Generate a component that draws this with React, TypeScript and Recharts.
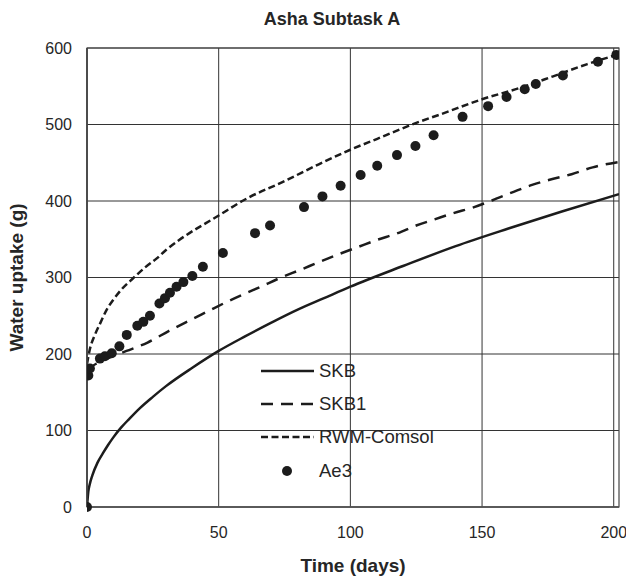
import {
  ComposedChart,
  Line,
  Scatter,
  XAxis,
  YAxis,
  CartesianGrid,
  ReferenceArea,
  Legend,
} from "recharts";

// SKB (solid)
const skbDays = [0, 0.5, 1, 2, 4, 6, 8, 10, 13, 16, 20, 25, 30, 40, 50, 60, 70, 80, 90, 100, 120, 140, 160, 180, 202];
const skbUptake = [0, 20, 29, 41, 58, 70, 81, 91, 104, 115, 129, 144, 158, 182, 204, 223, 241, 258, 273, 288, 315, 341, 364, 386, 409];

// SKB1 (long dash)
const skb1Days = [0, 2, 5, 9, 15, 23, 31, 39, 46, 53, 60, 66, 73, 81, 88, 96, 103, 110, 118, 125, 132, 139, 147, 154, 162, 169, 176, 184, 192, 202];
const skb1Uptake = [178, 184, 190, 196, 204, 215, 230, 244, 256, 268, 279, 288, 299, 310, 320, 331, 340, 349, 358, 368, 376, 384, 392, 401, 412, 421, 428, 435, 444, 451];

// RWM-Comsol (short dash)
const rwmDays = [0, 1, 3, 5, 7.5, 10, 13, 17.5, 22, 26.5, 30, 35, 50, 60, 75, 88, 100, 110, 126.5, 134, 150, 164.5, 177, 190, 202];
const rwmUptake = [187, 205, 225, 240, 258, 271, 284, 299, 313, 325, 336, 349, 381, 402, 426, 448, 467, 481, 504, 513, 533, 548, 563, 579, 592];

// Ae3 (measured points)
const ae3Days = [0, 0.5, 1.1, 4.9, 6.8, 9.4, 12.3, 15.1, 19.1, 21.4, 23.9, 27.5, 29.6, 31.5, 34, 36.6, 40, 44, 51.6, 63.8, 69.5, 82.4, 89.4, 96.3, 103.9, 110.2, 117.7, 124.7, 131.6, 142.6, 152.3, 159.3, 166.2, 170.4, 180.7, 194, 201];
const ae3Uptake = [0, 172, 181, 194, 197, 201, 210, 225, 237, 242, 250, 266, 273, 280, 288, 294, 302, 314, 332, 358, 368, 392, 406, 420, 434, 446, 460, 472, 486, 510, 524, 536, 546, 553, 564, 582, 591];

const xTicks = [0, 50, 100, 150, 200];
const yTicks = [0, 100, 200, 300, 400, 500, 600];

const legendItems = [
  { name: "SKB", dash: "" },
  { name: "SKB1", dash: "12 8" },
  { name: "RWM-Comsol", dash: "7 3.5" },
  { name: "Ae3", dash: null },
];

const zip = (xs: number[], ys: number[]) => xs.map((t, i) => ({ t, v: ys[i] }));

const skb = zip(skbDays, skbUptake);
const skb1 = zip(skb1Days, skb1Uptake);
const rwm = zip(rwmDays, rwmUptake);
const ae3 = zip(ae3Days, ae3Uptake);

const INK = "#1c1c1c";
const TEXT = "#262626";
const FONT = "'Liberation Sans', Arial, sans-serif";

function LegendBox() {
  return (
    <div style={{ fontFamily: FONT, fontSize: 18.5, color: TEXT }}>
      {legendItems.map((it) => (
        <div
          key={it.name}
          style={{ display: "flex", alignItems: "center", height: 33.3 }}
        >
          <svg width={59} height={16} style={{ display: "block" }}>
            {it.dash === null ? (
              <circle cx={27} cy={8} r={5} fill={INK} />
            ) : (
              <line
                x1={1}
                x2={54}
                y1={8}
                y2={8}
                stroke={INK}
                strokeWidth={2.5}
                strokeDasharray={it.dash || undefined}
              />
            )}
          </svg>
          <span style={{ lineHeight: "18px" }}>{it.name}</span>
        </div>
      ))}
    </div>
  );
}

export default function App() {
  return (
    <div style={{ position: "absolute", left: 0, top: 0, width: 626, height: 586, background: "#fff" }}>
      <div
        style={{
          position: "absolute",
          left: 0,
          width: 664,
          top: 9,
          textAlign: "center",
          fontFamily: FONT,
          fontWeight: "bold",
          fontSize: 18,
          color: TEXT,
        }}
      >
        Asha Subtask A
      </div>
      <ComposedChart
        width={626}
        height={586}
        margin={{ top: 48, right: 7, bottom: 0, left: 0 }}
        style={{ fontFamily: FONT }}
      >
        <CartesianGrid stroke="#333" strokeWidth={1} horizontalValues={yTicks} verticalValues={xTicks} />
        <ReferenceArea
          x1={0}
          x2={202}
          y1={0}
          y2={600}
          fill="none"
          fillOpacity={0}
          stroke="#444"
          strokeWidth={1.2}
          ifOverflow="visible"
        />
        <XAxis
          type="number"
          dataKey="t"
          domain={[0, 202]}
          ticks={xTicks}
          allowDataOverflow
          height={79}
          tickLine={false}
          tickSize={0}
          tickMargin={20}
          axisLine={{ stroke: "#555", strokeWidth: 1.5 }}
          tick={{ fill: TEXT, fontSize: 16 }}
          label={{
            value: "Time (days)",
            position: "insideBottom",
            offset: 14,
            style: { fill: TEXT, fontSize: 19, fontWeight: "bold" },
          }}
        />
        <YAxis
          type="number"
          dataKey="v"
          domain={[0, 600]}
          ticks={yTicks}
          width={87}
          tickLine={false}
          tickSize={0}
          tickMargin={15}
          axisLine={{ stroke: "#444", strokeWidth: 1.5 }}
          tick={{ fill: TEXT, fontSize: 16 }}
          label={{
            value: "Water uptake (g)",
            angle: -90,
            position: "insideLeft",
            offset: 16,
            style: { fill: TEXT, fontSize: 19, fontWeight: "bold", textAnchor: "middle" },
          }}
        />
        <Legend
          layout="vertical"
          align="center"
          verticalAlign="middle"
          content={() => <LegendBox />}
          wrapperStyle={{ left: 260, top: 354, width: 220 }}
        />
        <Line
          data={skb}
          dataKey="v"
          name="SKB"
          type="monotone"
          stroke={INK}
          strokeWidth={2.5}
          dot={false}
          isAnimationActive={false}
        />
        <Line
          data={skb1}
          dataKey="v"
          name="SKB1"
          type="monotone"
          stroke={INK}
          strokeWidth={2.5}
          strokeDasharray="12 8"
          dot={false}
          isAnimationActive={false}
        />
        <Line
          data={rwm}
          dataKey="v"
          name="RWM-Comsol"
          type="monotone"
          stroke={INK}
          strokeWidth={2.5}
          strokeDasharray="7 3.5"
          dot={false}
          isAnimationActive={false}
        />
        <Scatter
          data={ae3}
          dataKey="v"
          name="Ae3"
          fill={INK}
          shape={(p: any) => <circle cx={p.cx} cy={p.cy} r={5} fill={INK} />}
          isAnimationActive={false}
        />
      </ComposedChart>
    </div>
  );
}
